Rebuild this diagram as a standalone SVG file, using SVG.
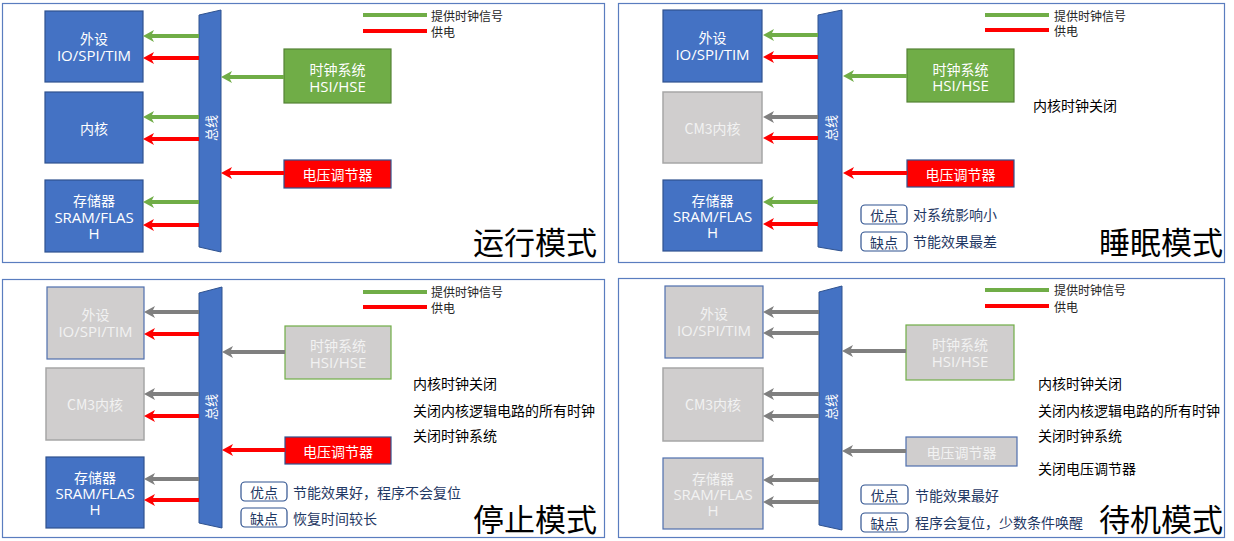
<svg xmlns="http://www.w3.org/2000/svg" width="1234" height="541" viewBox="0 0 1234 541">
<style>
text{font-family:"Open Sans","Noto Sans CJK SC",sans-serif;dominant-baseline:central}
.frame{fill:#fff;stroke:#5a7dbf;stroke-width:1.2}
.blue{fill:#4472c4;stroke:#2f528f;stroke-width:1.2}
.green{fill:#70ad47;stroke:#548235;stroke-width:1.2}
.red{fill:#ff0000;stroke:#2f528f;stroke-width:1.2}
.grayB{fill:#d0cece;stroke:#4f6fae;stroke-width:1.2}
.grayG{fill:#d0cece;stroke:#a6a6a6;stroke-width:1.5}
.grayGr{fill:#d0cece;stroke:#70ad47;stroke-width:1.2}
.bus{fill:#4472c4;stroke:#2f528f;stroke-width:1}
.wt{fill:#fff;font-size:14px;text-anchor:middle;font-family:"Noto Sans CJK SC",sans-serif}
.wl{fill:#fff;font-size:15px;text-anchor:middle}
.lt{fill:#f2f2f2;font-size:14px;text-anchor:middle;font-family:"Noto Sans CJK SC",sans-serif}
.ll{fill:#f2f2f2;font-size:15px;text-anchor:middle}
.leg{fill:#262626;font-size:12px;font-family:"Noto Sans CJK SC",sans-serif}
.note{fill:#000;font-size:14px;font-family:"Noto Sans CJK SC",sans-serif}
.pc{fill:#fff;stroke:#2f528f;stroke-width:1.2}
.pt{fill:#1f3864;font-size:14px;font-family:"Noto Sans CJK SC",sans-serif}
.ptc{fill:#1f3864;font-size:14px;text-anchor:middle;font-family:"Noto Sans CJK SC",sans-serif}
.title{fill:#000;font-size:31px;text-anchor:end;font-family:"Noto Sans CJK SC",sans-serif}
.bt{fill:#fff;font-size:13px;text-anchor:middle;font-family:"Noto Sans CJK SC",sans-serif}
.ag{stroke:#70ad47;stroke-width:4;fill:none;marker-end:url(#mg)}
.ar{stroke:#ff0000;stroke-width:4;fill:none;marker-end:url(#mr)}
.ay{stroke:#7f7f7f;stroke-width:4;fill:none;marker-end:url(#my)}
.lg{stroke:#70ad47;stroke-width:4}
.lr{stroke:#ff0000;stroke-width:4}
</style>
<defs>
<marker id="mg" viewBox="0 0 11 12" refX="3" refY="6" markerWidth="11" markerHeight="12" markerUnits="userSpaceOnUse" orient="auto"><path d="M0,0 L11,6 L0,12 L3,6 z" fill="#70ad47"/></marker>
<marker id="mr" viewBox="0 0 11 12" refX="3" refY="6" markerWidth="11" markerHeight="12" markerUnits="userSpaceOnUse" orient="auto"><path d="M0,0 L11,6 L0,12 L3,6 z" fill="#ff0000"/></marker>
<marker id="my" viewBox="0 0 11 12" refX="3" refY="6" markerWidth="11" markerHeight="12" markerUnits="userSpaceOnUse" orient="auto"><path d="M0,0 L11,6 L0,12 L3,6 z" fill="#7f7f7f"/></marker>
</defs>
<rect width="1234" height="541" fill="#fff"/>

<!-- Quadrant 1: 运行模式 -->
<g id="q1">
<rect class="frame" x="2.5" y="3.5" width="602" height="259"/>
<g id="q1-legend">
<line class="lg" x1="363" y1="15" x2="427" y2="15"/><text class="leg" x="431" y="15">提供时钟信号</text>
<line class="lr" x1="363" y1="31" x2="427" y2="31"/><text class="leg" x="431" y="31">供电</text>
</g>
<g id="q1-periph"><rect class="blue" x="45" y="11" width="98" height="71"/><text class="wt" x="94" y="38">外设</text><text class="wl" x="94" y="55">IO/SPI/TIM</text></g>
<g id="q1-core"><rect class="blue" x="45" y="92" width="98" height="71"/><text class="wt" x="94" y="128">内核</text></g>
<g id="q1-mem"><rect class="blue" x="45" y="180" width="98" height="72"/><text class="wt" x="94" y="200">存储器</text><text class="wl" x="94" y="217">SRAM/FLAS</text><text class="wl" x="94" y="233">H</text></g>
<g id="q1-bus"><polygon class="bus" points="199,15 221,10 221,252 199,247"/><text class="bt" transform="translate(210,128) rotate(-90)" x="0" y="0">总线</text></g>
<g id="q1-clock"><rect class="green" x="284" y="49" width="107" height="54"/><text class="wt" x="337.5" y="69">时钟系统</text><text class="wl" x="337.5" y="86">HSI/HSE</text></g>
<g id="q1-volt"><rect class="red" x="284" y="160" width="107" height="28"/><text class="wt" x="337.5" y="174">电压调节器</text></g>
<text class="title" x="597" y="240">运行模式</text>
</g>

<!-- Quadrant 2: 睡眠模式 -->
<g id="q2">
<rect class="frame" x="618.5" y="3.5" width="606" height="259"/>
<g id="q2-legend">
<line class="lg" x1="985" y1="15" x2="1049" y2="15"/><text class="leg" x="1054" y="15">提供时钟信号</text>
<line class="lr" x1="985" y1="30" x2="1049" y2="30"/><text class="leg" x="1054" y="30">供电</text>
</g>
<g id="q2-periph"><rect class="blue" x="663" y="10" width="99" height="72"/><text class="wt" x="712.5" y="37">外设</text><text class="wl" x="712.5" y="54">IO/SPI/TIM</text></g>
<g id="q2-core"><rect class="grayG" x="663" y="92" width="99" height="71"/><text class="lt" x="712.5" y="128">CM3内核</text></g>
<g id="q2-mem"><rect class="blue" x="663" y="180" width="99" height="71"/><text class="wt" x="712.5" y="200">存储器</text><text class="wl" x="712.5" y="216">SRAM/FLAS</text><text class="wl" x="712.5" y="232">H</text></g>
<g id="q2-bus"><polygon class="bus" points="818,15 842,10 842,251 818,247"/><text class="bt" transform="translate(830,128) rotate(-90)" x="0" y="0">总线</text></g>
<g id="q2-clock"><rect class="green" x="907" y="49" width="107" height="53"/><text class="wt" x="960.5" y="69">时钟系统</text><text class="wl" x="960.5" y="85">HSI/HSE</text></g>
<g id="q2-volt"><rect class="red" x="907" y="160" width="107" height="27"/><text class="wt" x="960.5" y="173.5">电压调节器</text></g>
<text class="note" x="1033" y="105">内核时钟关闭</text>
<g id="q2-pro"><rect class="pc" x="861" y="205" width="46" height="19" rx="4"/><text class="ptc" x="884" y="214.5">优点</text><text class="pt" x="913" y="214">对系统影响小</text></g>
<g id="q2-con"><rect class="pc" x="861" y="232" width="46" height="19" rx="4"/><text class="ptc" x="884" y="241.5">缺点</text><text class="pt" x="913" y="241">节能效果最差</text></g>
<text class="title" x="1223" y="240">睡眠模式</text>
</g>

<!-- Quadrant 3: 停止模式 -->
<g id="q3">
<rect class="frame" x="2.5" y="279.5" width="602" height="258"/>
<g id="q3-legend">
<line class="lg" x1="363" y1="292" x2="427" y2="292"/><text class="leg" x="431" y="291">提供时钟信号</text>
<line class="lr" x1="363" y1="307" x2="427" y2="307"/><text class="leg" x="431" y="307">供电</text>
</g>
<g id="q3-periph"><rect class="grayB" x="47" y="287" width="97" height="72"/><text class="lt" x="95.5" y="314">外设</text><text class="ll" x="95.5" y="331">IO/SPI/TIM</text></g>
<g id="q3-core"><rect class="grayG" x="46" y="368" width="98" height="72"/><text class="lt" x="95" y="404">CM3内核</text></g>
<g id="q3-mem"><rect class="blue" x="46" y="457" width="98" height="71"/><text class="wt" x="95" y="477">存储器</text><text class="wl" x="95" y="493">SRAM/FLAS</text><text class="wl" x="95" y="509">H</text></g>
<g id="q3-bus"><polygon class="bus" points="199,293 222,287 222,528 199,523"/><text class="bt" transform="translate(210.5,407) rotate(-90)" x="0" y="0">总线</text></g>
<g id="q3-clock"><rect class="grayGr" x="285" y="326" width="106" height="53"/><text class="lt" x="338" y="345">时钟系统</text><text class="ll" x="338" y="362">HSI/HSE</text></g>
<g id="q3-volt"><rect class="red" x="285" y="437" width="106" height="27"/><text class="wt" x="338" y="450.5">电压调节器</text></g>
<text class="note" x="413" y="383">内核时钟关闭</text>
<text class="note" x="413" y="410">关闭内核逻辑电路的所有时钟</text>
<text class="note" x="413" y="435">关闭时钟系统</text>
<g id="q3-pro"><rect class="pc" x="241" y="482" width="46" height="19" rx="4"/><text class="ptc" x="264" y="491.5">优点</text><text class="pt" x="293" y="491.5">节能效果好，程序不会复位</text></g>
<g id="q3-con"><rect class="pc" x="241" y="508" width="46" height="19" rx="4"/><text class="ptc" x="264" y="517.5">缺点</text><text class="pt" x="293" y="518">恢复时间较长</text></g>
<text class="title" x="597" y="517">停止模式</text>
</g>

<!-- Quadrant 4: 待机模式 -->
<g id="q4">
<rect class="frame" x="618.5" y="278.5" width="606" height="259"/>
<g id="q4-legend">
<line class="lg" x1="985" y1="290" x2="1049" y2="290"/><text class="leg" x="1054" y="289">提供时钟信号</text>
<line class="lr" x1="985" y1="306" x2="1049" y2="306"/><text class="leg" x="1054" y="306">供电</text>
</g>
<g id="q4-periph"><rect class="grayB" x="665" y="286" width="98" height="72"/><text class="lt" x="714" y="313">外设</text><text class="ll" x="714" y="330">IO/SPI/TIM</text></g>
<g id="q4-core"><rect class="grayG" x="663" y="368" width="100" height="73"/><text class="lt" x="713" y="404">CM3内核</text></g>
<g id="q4-mem"><rect class="grayB" x="663" y="458" width="100" height="71"/><text class="lt" x="713" y="478">存储器</text><text class="ll" x="713" y="494">SRAM/FLAS</text><text class="ll" x="713" y="510">H</text></g>
<g id="q4-bus"><polygon class="bus" points="819,292 842,286 842,530 819,525"/><text class="bt" transform="translate(830.5,407) rotate(-90)" x="0" y="0">总线</text></g>
<g id="q4-clock"><rect class="grayGr" x="906" y="325" width="108" height="55"/><text class="lt" x="960" y="344">时钟系统</text><text class="ll" x="960" y="361">HSI/HSE</text></g>
<g id="q4-volt"><rect class="grayB" x="906" y="437" width="111" height="29"/><text class="lt" x="961.5" y="451.5">电压调节器</text></g>
<text class="note" x="1038" y="383">内核时钟关闭</text>
<text class="note" x="1038" y="410">关闭内核逻辑电路的所有时钟</text>
<text class="note" x="1038" y="435">关闭时钟系统</text>
<text class="note" x="1038" y="468">关闭电压调节器</text>
<g id="q4-pro"><rect class="pc" x="861" y="485" width="47" height="19" rx="4"/><text class="ptc" x="884.5" y="494.5">优点</text><text class="pt" x="915" y="495">节能效果最好</text></g>
<g id="q4-con"><rect class="pc" x="861" y="513" width="47" height="19" rx="4"/><text class="ptc" x="884.5" y="522.5">缺点</text><text class="pt" x="915" y="522">程序会复位，少数条件唤醒</text></g>
<text class="title" x="1223" y="517">待机模式</text>
</g>

<!-- Connectors -->
<g id="connectors">
<line class="ag" x1="199" y1="36" x2="151" y2="36"/>
<line class="ar" x1="199" y1="58" x2="151" y2="58"/>
<line class="ag" x1="199" y1="117" x2="151" y2="117"/>
<line class="ar" x1="199" y1="139" x2="151" y2="139"/>
<line class="ag" x1="199" y1="202" x2="151" y2="202"/>
<line class="ar" x1="199" y1="225" x2="151" y2="225"/>
<line class="ag" x1="284" y1="77" x2="229" y2="77"/>
<line class="ar" x1="284" y1="173" x2="229" y2="173"/>

<line class="ag" x1="818" y1="35" x2="771" y2="35"/>
<line class="ar" x1="818" y1="57" x2="771" y2="57"/>
<line class="ay" x1="818" y1="117" x2="771" y2="117"/>
<line class="ar" x1="818" y1="138" x2="771" y2="138"/>
<line class="ag" x1="818" y1="202" x2="771" y2="202"/>
<line class="ar" x1="818" y1="224" x2="771" y2="224"/>
<line class="ag" x1="907" y1="76" x2="851" y2="76"/>
<line class="ar" x1="907" y1="173" x2="851" y2="173"/>

<line class="ay" x1="199" y1="312" x2="152" y2="312"/>
<line class="ar" x1="199" y1="334" x2="152" y2="334"/>
<line class="ay" x1="199" y1="394" x2="152" y2="394"/>
<line class="ar" x1="199" y1="416" x2="152" y2="416"/>
<line class="ay" x1="199" y1="479" x2="152" y2="479"/>
<line class="ar" x1="199" y1="500" x2="152" y2="500"/>
<line class="ay" x1="285" y1="352" x2="230" y2="352"/>
<line class="ar" x1="285" y1="450" x2="230" y2="450"/>

<line class="ay" x1="819" y1="312" x2="771" y2="312"/>
<line class="ay" x1="819" y1="333" x2="771" y2="333"/>
<line class="ay" x1="819" y1="394" x2="771" y2="394"/>
<line class="ay" x1="819" y1="416" x2="771" y2="416"/>
<line class="ay" x1="819" y1="480" x2="771" y2="480"/>
<line class="ay" x1="819" y1="502" x2="771" y2="502"/>
<line class="ay" x1="906" y1="351" x2="850" y2="351"/>
<line class="ay" x1="906" y1="451" x2="850" y2="451"/>
</g>
</svg>
